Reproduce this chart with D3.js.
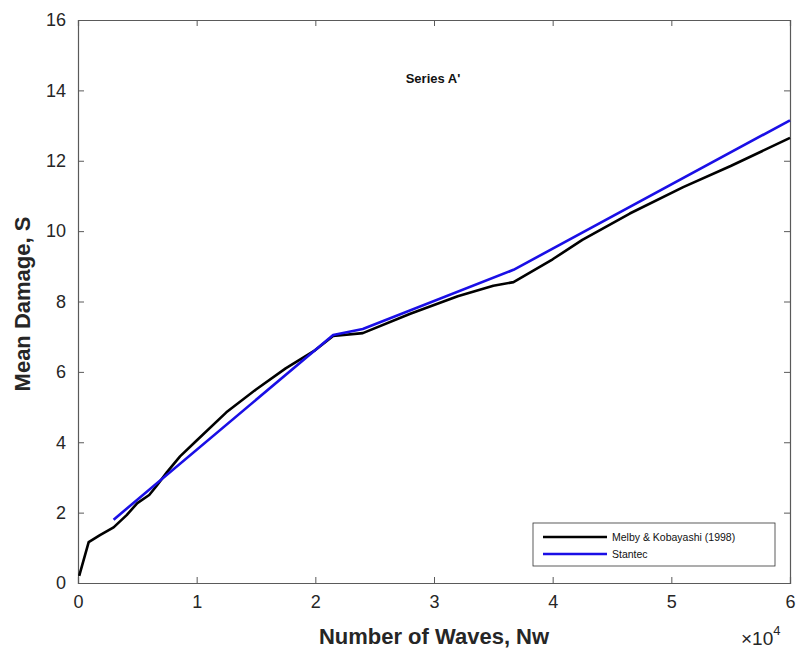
<!DOCTYPE html>
<html lang="en">
<head>
    <meta charset="UTF-8">
    <title>Series A' - Mean Damage</title>
    <script src="https://cdnjs.cloudflare.com/ajax/libs/d3/7.8.5/d3.min.js"></script>
    <style>
        body { margin: 0; background: #fff; }
        svg { display: block; font-family: "Liberation Sans", Arial, sans-serif; }
        .tick text { font-size: 18px; fill: #262626; }
        .tick line, .domain { stroke: #5a5a5a; }
    </style>
</head>
<body>
    <svg width="796" height="653"></svg>
    <script>
        // Melby & Kobayashi (1998)
        const melbyWaves  = [100, 900, 1850, 3000, 4100, 5000, 6000, 6600, 7500, 8600, 10000, 12500, 15000, 17500, 20000, 21500, 24000, 28000, 32000, 35000, 36700, 40000, 42500, 46500, 51000, 55000, 60000];
        const melbyDamage = [0.2, 1.16, 1.36, 1.58, 1.93, 2.27, 2.5, 2.75, 3.15, 3.6, 4.05, 4.85, 5.5, 6.1, 6.62, 7.02, 7.1, 7.65, 8.15, 8.45, 8.55, 9.2, 9.75, 10.5, 11.25, 11.85, 12.65];
        // Stantec
        const stantecWaves  = [3000, 21500, 24000, 36700, 60000];
        const stantecDamage = [1.8, 7.05, 7.22, 8.9, 13.15];

        const xTicks = [0, 10000, 20000, 30000, 40000, 50000, 60000];
        const yTicks = [0, 2, 4, 6, 8, 10, 12, 14, 16];
        const seriesNames = ["Melby & Kobayashi (1998)", "Stantec"];
        const seriesColors = ["#000000", "#1a0fe6"];

        const svg = d3.select("svg");
        const plotL = 78, plotR = 790, plotT = 20, plotB = 583;

        const x = d3.scaleLinear().domain([0, 60000]).range([plotL, plotR]);
        const y = d3.scaleLinear().domain([0, 16]).range([plotB, plotT]);

        // axes, ticks pointing inward like MATLAB
        svg.append("g").attr("transform", `translate(0,${plotB})`)
            .call(d3.axisBottom(x).tickValues(xTicks).tickSize(-6).tickPadding(12).tickFormat(d => d / 10000));
        svg.append("g").attr("transform", `translate(${plotL},0)`)
            .call(d3.axisLeft(y).tickValues(yTicks).tickSize(-6).tickPadding(12));
        svg.append("g").attr("transform", `translate(0,${plotT})`)
            .call(d3.axisTop(x).tickValues(xTicks).tickSize(-6).tickFormat(""));
        svg.append("g").attr("transform", `translate(${plotR},0)`)
            .call(d3.axisRight(y).tickValues(yTicks).tickSize(-6).tickFormat(""));
        svg.selectAll(".domain").attr("stroke-width", 1.2);

        const line = d3.line().x(d => x(d[0])).y(d => y(d[1]));
        const series = [
            d3.zip(melbyWaves, melbyDamage),
            d3.zip(stantecWaves, stantecDamage)
        ];
        series.forEach((pts, i) => {
            svg.append("path").datum(pts)
                .attr("fill", "none")
                .attr("stroke", seriesColors[i])
                .attr("stroke-width", 2.6)
                .attr("stroke-linejoin", "round")
                .attr("d", line);
        });

        // title inside plot
        svg.append("text").attr("x", 433).attr("y", 83).attr("text-anchor", "middle")
            .attr("font-size", 13).attr("font-weight", "bold").attr("fill", "#111").text("Series A'");

        // axis labels
        svg.append("text").attr("x", 434).attr("y", 644).attr("text-anchor", "middle")
            .attr("font-size", 22).attr("font-weight", "bold").attr("fill", "#262626").text("Number of Waves, Nw");
        svg.append("text").attr("transform", "translate(30,304) rotate(-90)").attr("text-anchor", "middle")
            .attr("font-size", 22).attr("font-weight", "bold").attr("fill", "#262626").text("Mean Damage, S");

        // exponent label
        const ex = svg.append("text").attr("x", 741).attr("y", 645).attr("font-size", 19).attr("fill", "#262626");
        ex.append("tspan").text("\u00d710");
        ex.append("tspan").attr("font-size", 13).attr("dy", -10).text("4");

        // legend
        const lg = svg.append("g").attr("transform", "translate(533,523)");
        lg.append("rect").attr("width", 242).attr("height", 43)
            .attr("fill", "#fff").attr("stroke", "#333").attr("stroke-width", 0.8);
        seriesNames.forEach((name, i) => {
            const yy = 14 + i * 17;
            lg.append("line").attr("x1", 10).attr("x2", 74).attr("y1", yy).attr("y2", yy)
                .attr("stroke", seriesColors[i]).attr("stroke-width", 2.6);
            lg.append("text").attr("x", 79).attr("y", yy + 4).attr("font-size", 10.5)
                .attr("fill", "#111").text(name);
        });
    </script>
</body>
</html>
